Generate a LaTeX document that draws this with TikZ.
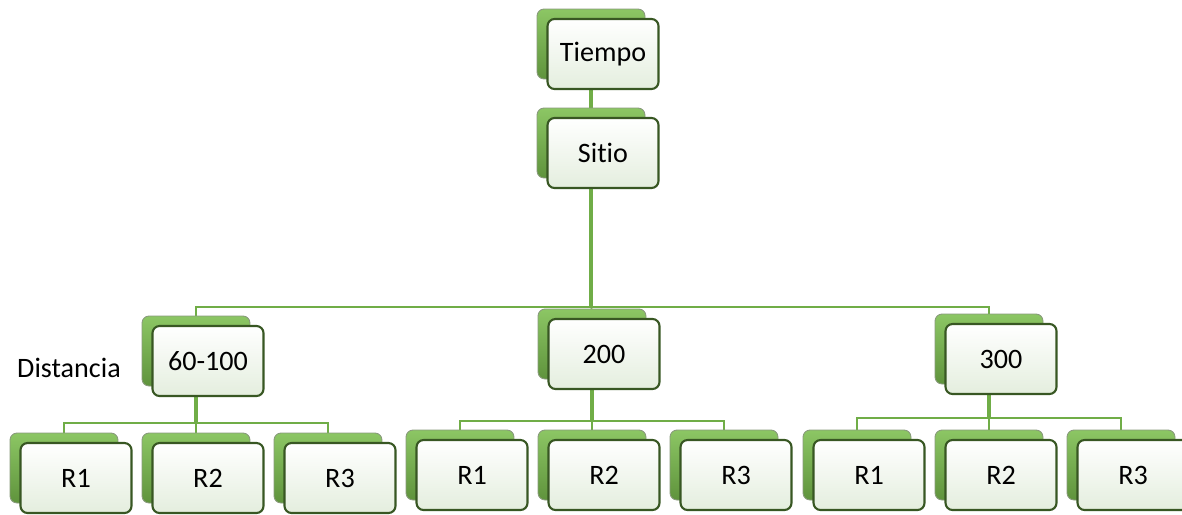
\documentclass[tikz,border=0pt]{standalone}
\usepackage{fontspec}
\setmainfont[Ligatures=NoCommon]{Carlito}
\usetikzlibrary{positioning,backgrounds}
\definecolor{leafGreen}{RGB}{112,173,71}
\definecolor{leafDark}{RGB}{56,87,35}
\definecolor{leafLight}{RGB}{140,198,100}
\definecolor{paleFace}{RGB}{228,238,222}
\tikzset{
  backcard/.style={draw=leafDark!60,line width=0.5pt,rounded corners=4pt,
    minimum width=2.16cm,minimum height=1.4cm,inner sep=0pt,
    top color=leafLight,bottom color=leafGreen!85!black},
  facecard/.style={draw=leafDark,line width=1.2pt,rounded corners=4pt,
    minimum width=2.22cm,minimum height=1.4cm,inner sep=0pt,
    top color=white,bottom color=paleFace,font=\fontsize{16}{19}\selectfont},
  trunk/.style={leafGreen,line width=2.3pt},
  bus/.style={leafGreen,line width=1.2pt}
}
% card: name, x and y of the back plate, text
\newcommand{\card}[4]{%
  \node[backcard] (#1b) at (#2,#3) {};
  \node[facecard] (#1) at (#2+12,#3+10) {#4};
}

\begin{document}
\begin{tikzpicture}[x=0.02cm,y=-0.02cm]
  \useasboundingbox (0,0) rectangle (1182,514);
  \card{tiempo}{591}{44}{Tiempo}
  \card{sitio}{591}{143}{Sitio}
  \card{d1}{196}{351}{60-100}
  \card{d2}{592}{344}{200}
  \card{d3}{989}{349}{300}
  \node[font=\fontsize{16}{19}\selectfont] (dist) at (69,368) {Distancia};
  % replicas under each distance
  \foreach \g/\px/\ry/\by in {d1/196/468/423,d2/592/465/421,d3/989/465/418}{
    \card{\g r1}{\px-132}{\ry}{R1}
    \card{\g r2}{\px}{\ry}{R2}
    \card{\g r3}{\px+132}{\ry}{R3}
    \coordinate (\g bus) at (\px,\by);
  }
  \coordinate (topbus) at (591,307);
  \begin{pgfonlayer}{background}
    \draw[trunk] (tiempob.south) -- (sitiob.north);
    \draw[trunk] (sitiob.south) -- (topbus);
    \draw[bus] (d1b.north) |- (topbus) -| (d3b.north);
    \draw[bus] (topbus) -- (d2b.north);
    \foreach \g in {d1,d2,d3}{
      \draw[trunk] (\g b.south) -- (\g bus);
      \draw[bus] (\g r1b.north) |- (\g bus) -| (\g r3b.north);
      \draw[bus] (\g bus) -- (\g r2b.north);
    }
  \end{pgfonlayer}
\end{tikzpicture}
\end{document}
